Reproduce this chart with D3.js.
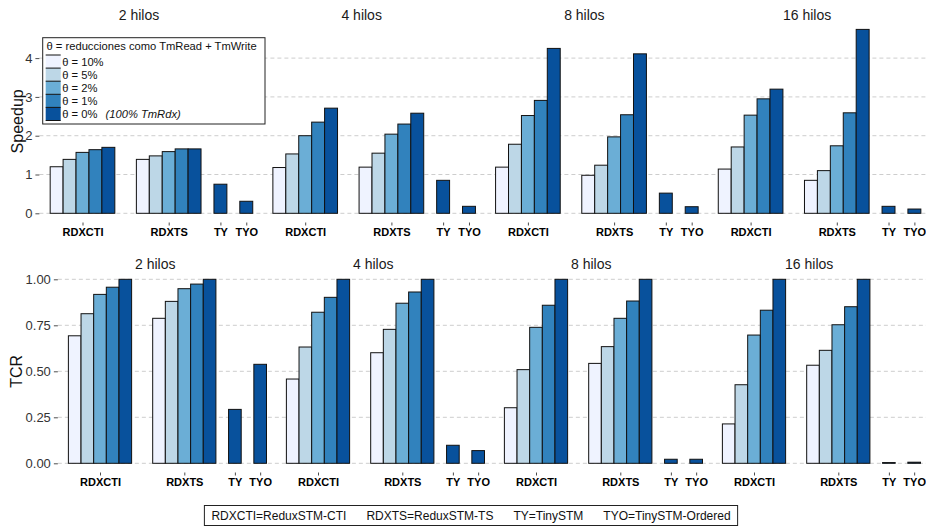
<!DOCTYPE html>
<html>
<head>
<meta charset="utf-8">
<script src="https://cdn.jsdelivr.net/npm/d3@7"></script>
<style>
  body { margin: 0; background: #fff; }
  svg { display: block; }
  text { font-family: "Liberation Sans", Arial, Helvetica, sans-serif; }
</style>
</head>
<body>
<svg id="chart" width="926" height="528"></svg>
<script>
// ---- data -------------------------------------------------------------
const threads = ["2 hilos", "4 hilos", "8 hilos", "16 hilos"];
const groups = ["RDXCTI", "RDXTS", "TY", "TYO"];
const thetaLabels = ["θ = 10%", "θ = 5%", "θ = 2%", "θ = 1%", "θ = 0%"];
const legendTitle = "θ = reducciones como TmRead + TmWrite";
const legendNote = "(100% TmRdx)";
const legendNames = ["RDXCTI=ReduxSTM-CTI", "RDXTS=ReduxSTM-TS", "TY=TinySTM", "TYO=TinySTM-Ordered"];

// Speedup: one row per thread count, one value per θ (10%, 5%, 2%, 1%, 0%)
const speedupRDXCTI = [
  [1.20, 1.39, 1.57, 1.64, 1.70],
  [1.18, 1.53, 2.00, 2.35, 2.71],
  [1.19, 1.78, 2.52, 2.91, 4.25],
  [1.14, 1.71, 2.53, 2.95, 3.20]
];
const speedupRDXTS = [
  [1.39, 1.48, 1.59, 1.66, 1.66],
  [1.19, 1.55, 2.04, 2.30, 2.58],
  [0.98, 1.24, 1.97, 2.54, 4.11],
  [0.85, 1.10, 1.74, 2.59, 4.74]
];
const speedupTY = [0.75, 0.85, 0.52, 0.18];
const speedupTYO = [0.31, 0.18, 0.17, 0.11];
const speedupTicks = [0, 1, 2, 3, 4];

// TCR
const tcrRDXCTI = [
  [0.693, 0.813, 0.918, 0.957, 1.00],
  [0.458, 0.632, 0.821, 0.902, 1.00],
  [0.302, 0.509, 0.739, 0.859, 1.00],
  [0.214, 0.427, 0.697, 0.832, 1.00]
];
const tcrRDXTS = [
  [0.788, 0.880, 0.949, 0.974, 1.00],
  [0.601, 0.728, 0.870, 0.931, 1.00],
  [0.543, 0.634, 0.788, 0.882, 1.00],
  [0.533, 0.614, 0.753, 0.851, 1.00]
];
const tcrTY = [0.293, 0.098, 0.022, 0.004];
const tcrTYO = [0.538, 0.069, 0.022, 0.006];
const tcrTicks = [0, 0.25, 0.5, 0.75, 1];

// ---- styling / layout -------------------------------------------------
const blues = ["#EFF3FF", "#BDD7E7", "#6BAED6", "#3182BD", "#08519C"];
const groupX = { RDXCTI: 1, RDXTS: 2, TY: 2.6, TYO: 2.9 };
const barW = 0.15;
const xDomain = [0.5, 2.81];
const narrowFont = '"Liberation Sans Narrow", "Arial Narrow", "Liberation Sans", Arial, sans-serif';

const svg = d3.select("#chart");
const color = d3.scaleOrdinal().domain(d3.range(5)).range(blues);

function buildBars(rdxcti, rdxts, ty, tyo) {
  const out = [];
  threads.forEach((t, i) => {
    rdxcti[i].forEach((v, k) => out.push({ panel: i, group: "RDXCTI", k, v, off: (k - 2) * barW }));
    rdxts[i].forEach((v, k) => out.push({ panel: i, group: "RDXTS", k, v, off: (k - 2) * barW }));
    out.push({ panel: i, group: "TY", k: 4, v: ty[i], off: 0 });
    out.push({ panel: i, group: "TYO", k: 4, v: tyo[i], off: 0 });
  });
  return out;
}

function drawRow(cfg) {
  const g = svg.append("g");
  const maxV = d3.max(cfg.bars, d => d.v);
  const pad = maxV * 0.05;
  const y = d3.scaleLinear()
    .domain(cfg.fixedDomain || [-pad, maxV + pad])
    .range([cfg.bottom, cfg.top]);
  const panelW = (xDomain[1] - xDomain[0]) * cfg.unit;
  const xs = threads.map((t, i) => d3.scaleLinear().domain(xDomain)
    .range([cfg.left + i * cfg.stride, cfg.left + i * cfg.stride + panelW]));

  // dashed horizontal grid
  g.append("g").selectAll("line").data(cfg.ticks).join("line")
    .attr("x1", cfg.left).attr("x2", 926)
    .attr("y1", d => y(d)).attr("y2", d => y(d))
    .attr("stroke", "#cdcdcd").attr("stroke-width", 1)
    .attr("stroke-dasharray", "4,3");

  // y axis
  const yAxis = d3.axisLeft(y).tickValues(cfg.ticks).tickSize(4).tickPadding(3)
    .tickFormat(cfg.tickFormat);
  const ya = g.append("g").attr("transform", `translate(${cfg.left},0)`).call(yAxis);
  ya.select(".domain").remove();
  ya.selectAll(".tick line").attr("stroke", "#4d4d4d");
  ya.selectAll(".tick text").attr("fill", "#333").style("font-size", "13px")
    .style("font-family", '"Liberation Sans", Arial, sans-serif');

  // y title
  g.append("text")
    .attr("transform", `translate(${cfg.titleX},${(cfg.top + cfg.bottom) / 2}) rotate(-90)`)
    .attr("text-anchor", "middle").attr("dy", "0.35em")
    .attr("fill", "#111").style("font-size", "16px")
    .text(cfg.yTitle);

  threads.forEach((t, i) => {
    const x = xs[i];
    // x axis
    const xAxis = d3.axisBottom(x).tickValues(groups.map(gk => groupX[gk]))
      .tickSize(3).tickPadding(3)
      .tickFormat((d, j) => groups[j]);
    const xa = g.append("g").attr("transform", `translate(0,${cfg.bottom})`).call(xAxis);
    xa.select(".domain").remove();
    xa.selectAll(".tick line").attr("stroke", "#4d4d4d");
    xa.selectAll(".tick text").attr("fill", "#000")
      .style("font-size", "11px").style("font-weight", "bold")
      .style("font-family", narrowFont);

    // panel title
    g.append("text")
      .attr("x", (x.range()[0] + x.range()[1]) / 2)
      .attr("y", cfg.stripY)
      .attr("text-anchor", "middle").attr("fill", "#1a1a1a")
      .style("font-size", "14px").text(t);
  });

  // bars
  g.append("g").selectAll("rect").data(cfg.bars).join("rect")
    .attr("x", d => xs[d.panel](groupX[d.group] + d.off - barW / 2))
    .attr("width", d => xs[d.panel](groupX[d.group] + d.off + barW / 2) - xs[d.panel](groupX[d.group] + d.off - barW / 2))
    .attr("y", d => y(d.v))
    .attr("height", d => y(0) - y(d.v))
    .attr("fill", d => color(d.k))
    .attr("stroke", "#111").attr("stroke-width", 1);
}

drawRow({
  bars: buildBars(speedupRDXCTI, speedupRDXTS, speedupTY, speedupTYO),
  ticks: speedupTicks, tickFormat: d3.format("d"),
  left: 39.4, unit: 86.2, stride: 222.7,
  top: 20.2, bottom: 222.5, stripY: 20,
  yTitle: "Speedup", titleX: 17
});

drawRow({
  bars: buildBars(tcrRDXCTI, tcrRDXTS, tcrTY, tcrTYO),
  ticks: tcrTicks, tickFormat: d3.format(".2f"),
  fixedDomain: [-0.05, 1.05],
  left: 57.85, unit: 84.3, stride: 218,
  top: 270.1, bottom: 472.5, stripY: 269,
  yTitle: "TCR", titleX: 16
});

// ---- θ legend ---------------------------------------------------------
const lgFont = "11.2px";
const lg = svg.append("g");
lg.append("rect").attr("x", 42.7).attr("y", 37.7).attr("width", 222.3).attr("height", 86.3)
  .attr("fill", "#fff").attr("stroke", "#222").attr("stroke-width", 1);
lg.append("text").attr("x", 46.5).attr("y", 49.8).attr("fill", "#111")
  .style("font-size", lgFont).text(legendTitle);
const keyH = 13.1, keyTop = 55;
const items = lg.selectAll("g.item").data(thetaLabels).join("g").attr("class", "item")
  .attr("transform", (d, i) => `translate(45.7,${keyTop + i * keyH})`);
items.append("rect").attr("width", 15).attr("height", keyH)
  .attr("fill", (d, i) => blues[i]);
items.append("line").attr("x1", 0).attr("x2", 15).attr("y1", 0).attr("y2", 0)
  .attr("stroke", "#111").attr("stroke-width", 1);
items.append("text").attr("x", 16.5).attr("y", keyH / 2).attr("dy", "0.36em")
  .attr("fill", "#111").style("font-size", lgFont).text(d => d);
lg.append("line").attr("x1", 45.7).attr("x2", 60.7)
  .attr("y1", keyTop + 5 * keyH).attr("y2", keyTop + 5 * keyH)
  .attr("stroke", "#111").attr("stroke-width", 1);
lg.append("text").attr("x", 105.5).attr("y", keyTop + 4.5 * keyH).attr("dy", "0.36em")
  .attr("fill", "#111").style("font-size", lgFont).style("font-style", "italic")
  .text(legendNote);

// ---- bottom name legend -----------------------------------------------
const bl = svg.append("g");
const blFont = 12, blGap = 20, blPad = 7, blCenter = 471, blY = 516;
const tmp = bl.append("g");
const widths = legendNames.map(s => {
  const t = tmp.append("text").style("font-size", blFont + "px").text(s);
  const w = t.node().getComputedTextLength();
  t.remove();
  return w;
});
tmp.remove();
const totalW = d3.sum(widths) + blGap * (legendNames.length - 1);
const blLeft = blCenter - totalW / 2;
bl.append("rect").attr("x", blLeft - blPad).attr("y", 505.5)
  .attr("width", totalW + 2 * blPad).attr("height", 20)
  .attr("fill", "#fff").attr("stroke", "#222").attr("stroke-width", 1);
let cx = blLeft;
legendNames.forEach((s, i) => {
  bl.append("text").attr("x", cx).attr("y", blY).attr("dy", "0.36em")
    .attr("fill", "#111").style("font-size", blFont + "px").text(s);
  cx += widths[i] + blGap;
});
</script>
</body>
</html>
